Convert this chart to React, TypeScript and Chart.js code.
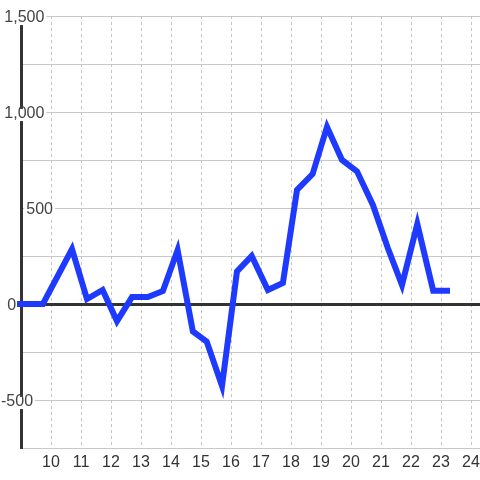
import React, { useEffect, useRef } from "react";
import { Chart, registerables } from "chart.js";

Chart.register(...registerables);

// hours of day (x) and values (y)
const times = [8.75, 9.73, 10.7, 11.2, 11.72, 12.2, 12.7, 13.23, 13.73, 14.22, 14.73, 15.19, 15.7, 16.2, 16.69, 17.23, 17.73, 18.2, 18.72, 19.2, 19.7, 20.2, 20.73, 21.23, 21.7, 22.21, 22.74, 23.3];
const values = [0, 0, 286, 26, 73, -89, 36, 36, 68, 281, -143, -196, -427, 170, 250, 73, 109, 594, 677, 922, 750, 691, 516, 290, 99, 417, 69, 69];

const xTicks = [10, 11, 12, 13, 14, 15, 16, 17, 18, 19, 20, 21, 22, 23, 24];
const yGrid = [-750, -500, -250, 0, 250, 500, 750, 1000, 1250, 1500];
// y tick labels, grouped by where each group's text sits
const yLabelsA = [1000, 1500];
const yLabelsB = [500];
const yLabelsC = [0];
const yLabelsD = [-500];

const FONT = "'Liberation Sans', Arial, Helvetica, sans-serif";
const Y_MIN = -750;
const Y_MAX = 1500;

function labelAxis(vals: number[], pad: number, backdrop: boolean) {
  return {
    type: "linear",
    position: "left",
    weight: 5,
    min: Y_MIN,
    max: Y_MAX,
    z: 1,
    afterBuildTicks: (s: any) => {
      s.ticks = vals.map((v) => ({ value: v }));
    },
    afterFit: (s: any) => {
      s.width = 0;
      s.paddingTop = 0;
      s.paddingBottom = 0;
    },
    grid: { display: false, drawTicks: false },
    border: { display: false },
    ticks: {
      mirror: true,
      crossAlign: "near",
      padding: pad,
      labelOffset: 1.5,
      color: "#444",
      font: { family: FONT, size: 16 },
      autoSkip: false,
      callback: (v: any) => Number(v).toLocaleString("en-US"),
      showLabelBackdrop: backdrop,
      backdropColor: "#ffffff",
      backdropPadding: { left: 2, right: 2, top: -5, bottom: -2 },
    },
  };
}

export default function App() {
  const ref = useRef<HTMLCanvasElement | null>(null);

  useEffect(() => {
    document.body.style.margin = "0";
    const canvas = ref.current;
    if (!canvas) return;
    const chart = new Chart(canvas, {
      type: "line",
      data: {
        datasets: [
          {
            data: times.map((t, i) => ({ x: t, y: values[i] })),
            borderColor: "#1f3aff",
            borderWidth: 6,
            pointRadius: 0,
            tension: 0,
            fill: false,
            borderJoinStyle: "miter",
            borderCapStyle: "butt",
            clip: { left: 4, right: 4, top: 4, bottom: 4 },
          },
        ],
      },
      options: {
        animation: false,
        responsive: false,
        maintainAspectRatio: false,
        layout: { padding: { top: 16, left: 0, right: 0, bottom: 0 } },
        plugins: { legend: { display: false }, tooltip: { enabled: false } },
        scales: {
          x: {
            type: "linear",
            min: 9,
            max: 24.3,
            afterBuildTicks: (s: any) => {
              s.ticks = xTicks.map((v) => ({ value: v }));
            },
            afterFit: (s: any) => {
              s.height = 32;
              s.paddingLeft = 0;
              s.paddingRight = 0;
            },
            grid: { color: "#c4c4c4", lineWidth: 1, drawTicks: false },
            border: { display: false, dash: [3, 3] },
            ticks: {
              padding: 5,
              color: "#333",
              font: { family: FONT, size: 16 },
              maxRotation: 0,
              autoSkip: false,
              callback: (v: any) => String(v),
            },
          },
          y: {
            type: "linear",
            position: "left",
            weight: 0,
            min: Y_MIN,
            max: Y_MAX,
            afterBuildTicks: (s: any) => {
              s.ticks = yGrid.map((v) => ({ value: v }));
            },
            afterFit: (s: any) => {
              s.width = 21;
              s.paddingTop = 0;
              s.paddingBottom = 0;
            },
            grid: {
              color: (c: any) => (c.tick && c.tick.value === 0 ? "#333" : "#c8c8c8"),
              lineWidth: (c: any) => (c.tick && c.tick.value === 0 ? 3 : 1),
              drawTicks: false,
            },
            border: { display: true, color: "#333", width: 3 },
            ticks: { display: false },
          },
          yA: labelAxis(yLabelsA, 4.3, true),
          yB: labelAxis(yLabelsB, 26.3, true),
          yC: labelAxis(yLabelsC, 7.3, false),
          yD: labelAxis(yLabelsD, 1.0, true),
        } as any,
      },
    });
    return () => chart.destroy();
  }, []);

  return <canvas ref={ref} width={480} height={480} style={{ display: "block" }} />;
}
